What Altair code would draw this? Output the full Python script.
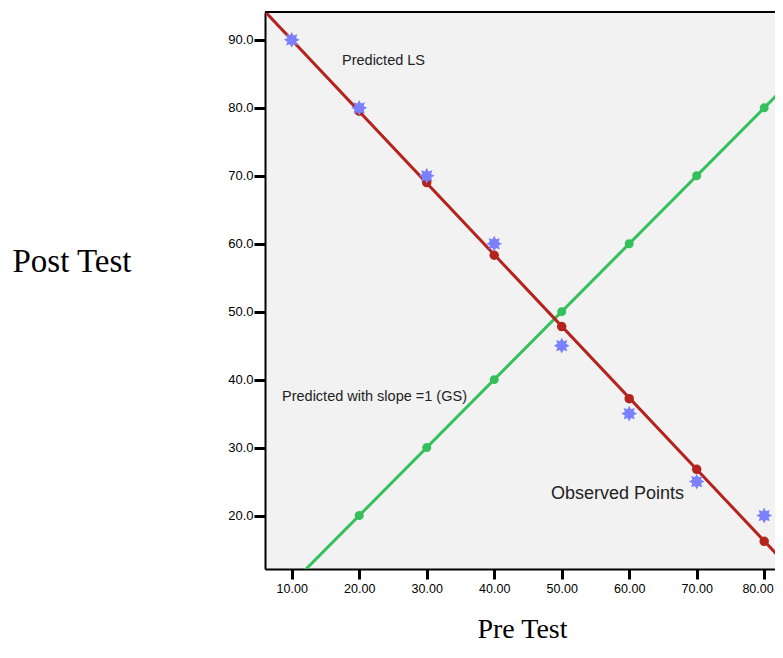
import math
import altair as alt
import pandas as pd

pre_test = [10, 20, 30, 40, 50, 60, 70, 80]
post_observed = [90, 80, 70, 60, 45, 35, 25, 20]
predicted_ls = [89.9, 79.5, 69.0, 58.3, 47.8, 37.2, 26.8, 16.2]
gs_x = [20, 30, 40, 50, 60, 70, 80]
gs_y = [20, 30, 40, 50, 60, 70, 80]

x_ticks = [10, 20, 30, 40, 50, 60, 70, 80]
y_ticks = [20, 30, 40, 50, 60, 70, 80, 90]

ann_text = ["Predicted LS", "Predicted with slope =1 (GS)", "Observed Points"]
ann_x = [17.45, 8.56, 48.4]
ann_y = [86.9, 37.5, 23.1]
ann_size = [14.5, 14.5, 18]

XD = [6.04, 81.6]
YD = [12.13, 94.1]
W, H = 510, 557

RED = "#b3241d"
GREEN = "#34c05a"
BLUE = "#7b80ff"

# 8-point star shape
pts = []
for i in range(16):
    r = 1.0 if i % 2 == 0 else 0.6
    a = math.pi * i / 8
    pts.append(f"{r*math.cos(a):.3f},{r*math.sin(a):.3f}")
star = "M" + "L".join(pts) + "Z"

obs = pd.DataFrame({"x": pre_test, "y": post_observed})
ls = pd.DataFrame({"x": pre_test, "y": predicted_ls})
gs = pd.DataFrame({"x": gs_x, "y": gs_y})
ann = pd.DataFrame({"t": ann_text, "x": ann_x, "y": ann_y, "s": ann_size})

xs = alt.Scale(domain=XD, nice=False, zero=False)
ys = alt.Scale(domain=YD, nice=False, zero=False)

xax = alt.Axis(values=x_ticks, format=".2f", grid=False, title="Pre Test",
               titleFont="Liberation Serif", titleFontSize=28, titleFontWeight="normal",
               titleColor="black", titleY=68, titleX=257, titleBaseline="alphabetic",
               labelFont="Liberation Sans", labelFontSize=12.5, labelColor="black",
               labelPadding=3, labelFlush=12, labelFlushOffset=9,
               tickSize=10, tickWidth=3, tickColor="black",
               domainColor="black", domainWidth=2)
yax = alt.Axis(values=y_ticks, format=".1f", grid=False, title="Post Test",
               titleFont="Liberation Serif", titleFontSize=33, titleFontWeight="normal",
               titleColor="black", titleAngle=0, titleAlign="left", titleBaseline="alphabetic",
               titleX=-253, titleY=259,
               labelFont="Liberation Sans", labelFontSize=13, labelColor="black",
               labelPadding=1, tickSize=11, tickWidth=3, tickColor="black",
               domainColor="black", domainWidth=2)

base_x = alt.X("x:Q", scale=xs, axis=xax)
base_y = alt.Y("y:Q", scale=ys, axis=yax)

red_line = alt.Chart(obs).transform_regression(
    "x", "y", extent=[0, 100]
).mark_line(color=RED, strokeWidth=3, clip=True).encode(x=base_x, y=base_y)

green_line = alt.Chart(gs).transform_regression(
    "x", "y", extent=[0, 100]
).mark_line(color=GREEN, strokeWidth=3, clip=True).encode(x=base_x, y=base_y)

red_pts = alt.Chart(ls[ls.x > 10]).mark_point(
    shape="circle", filled=True, color=RED, size=90, opacity=1
).encode(x="x:Q", y="y:Q")

green_pts = alt.Chart(gs).mark_point(
    shape="circle", filled=True, color=GREEN, size=80, opacity=1
).encode(x="x:Q", y="y:Q")

stars = alt.Chart(obs).mark_point(
    shape=star, filled=True, color=BLUE, size=250, opacity=1
).encode(x="x:Q", y="y:Q")

labels = alt.Chart(ann).mark_text(
    align="left", baseline="middle", font="Liberation Sans", color="#222222"
).encode(x="x:Q", y="y:Q", text="t:N", size=alt.Size("s:Q", scale=None, legend=None))

top_border = alt.Chart(obs).mark_rule(color="black", strokeWidth=2).encode(
    x=alt.value(0), x2=alt.value(W), y=alt.value(0)
)

chart = alt.layer(
    green_line, red_line, green_pts, red_pts, stars, labels, top_border
).properties(
    width=W, height=H,
    autosize=alt.AutoSizeParams(type="none"),
    padding={"left": 257, "top": 4, "right": 0, "bottom": 73},
    background="white",
).configure_view(fill="#f2f2f2", stroke=None)

chart.save("out.html", embed_options={"renderer": "svg", "actions": False})
